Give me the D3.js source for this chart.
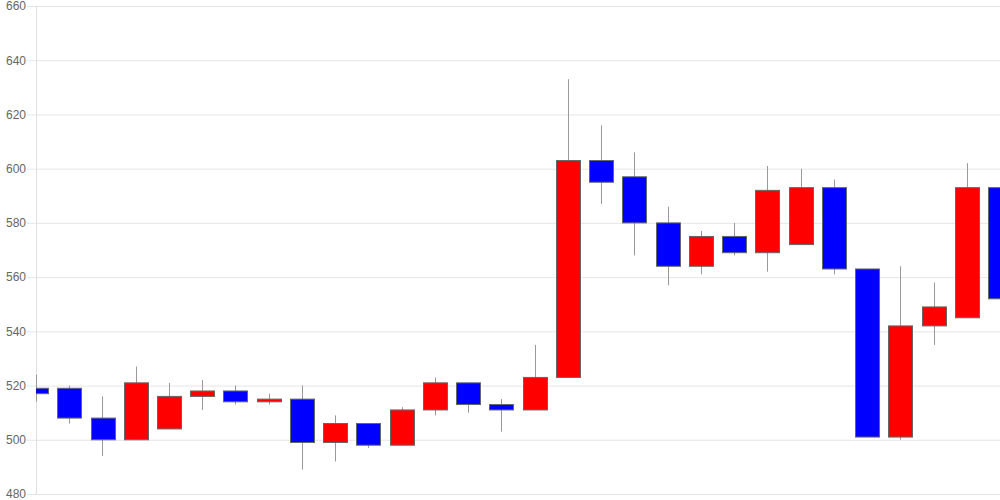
<!DOCTYPE html>
<html>
<head>
<meta charset="utf-8">
<script src="https://cdn.jsdelivr.net/npm/d3@7"></script>
<style>
  html, body { margin: 0; padding: 0; background: #fff; }
  svg { display: block; font-family: "Liberation Sans", Arial, sans-serif; }
</style>
</head>
<body>
<div id="root"></div>
<script>
// daily candles, oldest first
const opens  = [519, 519, 508, 500, 504, 516, 518, 514, 515, 499, 506, 498, 511, 521, 513,
                511, 523, 603, 597, 580, 564, 575, 569, 572, 593, 563, 501, 542, 545, 593];
const closes = [517, 508, 500, 521, 516, 518, 514, 515, 499, 506, 498, 511, 521, 513, 511,
                523, 603, 595, 580, 564, 575, 569, 592, 593, 563, 501, 542, 549, 593, 552];
const highs  = [524, 520, 516, 527, 521, 522, 520, 517, 520, 509, 506, 512, 523, 521, 515,
                535, 633, 616, 606, 586, 577, 580, 601, 600, 596, 563, 564, 558, 602, 595];
const lows   = [514, 506, 494, 500, 504, 511, 513, 513, 489, 492, 497, 498, 509, 510, 503,
                511, 523, 587, 568, 557, 561, 568, 562, 572, 561, 501, 500, 535, 545, 534];
const yTicks = [480, 500, 520, 540, 560, 580, 600, 620, 640, 660];

const data = opens.map((o, i) => ({
  i, open: o, close: closes[i], high: highs[i], low: lows[i]
}));

const width = 1000;
const height = 500;
const margin = { top: 6, right: 0, bottom: 6, left: 36 };
const innerWidth = width - margin.left - margin.right;
const innerHeight = height - margin.top - margin.bottom;

const svg = d3.select("#root")
  .append("svg")
  .attr("width", width)
  .attr("height", height)
  .attr("viewBox", `0 0 ${width} ${height}`);

svg.append("defs").append("clipPath")
  .attr("id", "plot-clip")
  .append("rect")
  .attr("width", innerWidth)
  .attr("height", innerHeight);

const inner = svg.append("g")
  .attr("transform", `translate(${margin.left}, ${margin.top})`);

// scales
const xScale = d3.scalePoint()
  .domain(data.map((d) => d.i))
  .range([0, innerWidth]);

const yScale = d3.scaleLinear()
  .domain([480, 660])
  .range([innerHeight, 0]);

const bodyWidth = xScale.step() * 0.72;

// grid + left axis
const leftAxis = d3.axisLeft(yScale)
  .tickValues(yTicks)
  .tickSize(-innerWidth - 9)
  .tickPadding(10);

const axisG = inner.append("g")
  .attr("transform", "translate(0, 0)")
  .call(leftAxis);

axisG.select(".domain").remove();
axisG.selectAll(".tick line")
  .attr("x1", -9)
  .attr("x2", innerWidth)
  .attr("stroke", "#e6e6e6");
axisG.selectAll(".tick text")
  .attr("fill", "#666")
  .attr("font-size", 12)
  .attr("x", -10);

inner.append("line")
  .attr("x1", 0.5).attr("x2", 0.5)
  .attr("y1", 0).attr("y2", innerHeight)
  .attr("stroke", "#e0e0e0");

// candles
const candles = inner.append("g")
  .attr("clip-path", "url(#plot-clip)")
  .selectAll("g")
  .data(data)
  .join("g");

candles.append("line")
  .attr("x1", (d) => Math.round(xScale(d.i)) + 0.5)
  .attr("x2", (d) => Math.round(xScale(d.i)) + 0.5)
  .attr("y1", (d) => yScale(d.high))
  .attr("y2", (d) => yScale(d.low))
  .attr("stroke", "#999")
  .attr("stroke-width", 1);

candles.append("rect")
  .attr("x", (d) => Math.round(xScale(d.i) - bodyWidth / 2) + 0.5)
  .attr("y", (d) => yScale(Math.max(d.open, d.close)))
  .attr("width", Math.round(bodyWidth))
  .attr("height", (d) => Math.max(1, Math.abs(yScale(d.open) - yScale(d.close))))
  .attr("fill", (d) => (d.close >= d.open ? "#ff0000" : "#0000ff"))
  .attr("stroke", "#666")
  .attr("stroke-width", 1);
</script>
</body>
</html>
